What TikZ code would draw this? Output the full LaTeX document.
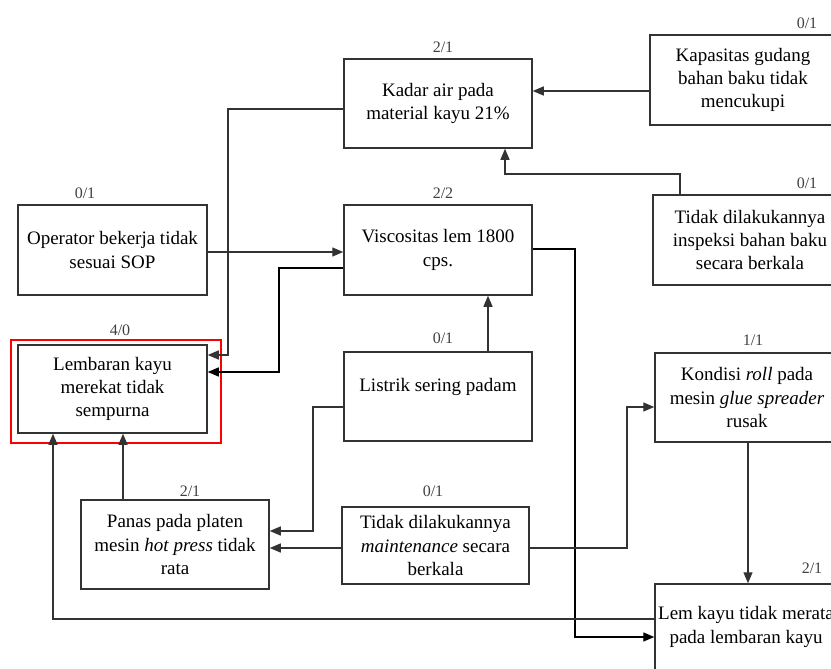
\documentclass[tikz,border=0pt]{standalone}
\usepackage{fontspec}
\setmainfont{Liberation Serif}
\usetikzlibrary{arrows.meta}
\tikzset{
  box/.style={draw=black!80, line width=1.5pt, rectangle, inner sep=0pt, align=center,
    font=\fontsize{19}{23.3}\selectfont},
  lab/.style={font=\fontsize{16}{18}\selectfont, text=black!75, inner sep=0pt},
  arr/.style={draw=black!80, line width=1.3pt, -{Triangle[length=11pt,width=9pt]}},
}
\begin{document}
\begin{tikzpicture}[x=1pt,y=-1pt]
\useasboundingbox (0,0) rectangle (831,669);
\clip (0,0) rectangle (831,669);
% boxes
\node[box, minimum width=188pt, minimum height=89pt] (kadar) at (438,103.5) {Kadar air pada\\material kayu 21\%};
\node[box, minimum width=186pt, minimum height=90pt] (kap) at (743,80) {Kapasitas gudang\\bahan baku tidak\\mencukupi};
\node[box, minimum width=194pt, minimum height=90pt] (insp) at (750,240) {Tidak dilakukannya\\inspeksi bahan baku\\secara berkala};
\node[box, minimum width=189pt, minimum height=90pt] (oper) at (112.5,250) {Operator bekerja tidak\\sesuai SOP};
\node[box, minimum width=188pt, minimum height=90pt] (visc) at (438,250) {Viscositas lem 1800\\cps.};
\node[box, minimum width=189pt, minimum height=88pt] (lemb) at (112.5,389) {Lembaran kayu\\merekat tidak\\sempurna};
\node[box, minimum width=188pt, minimum height=89pt] (list) at (438,396.5) {Listrik sering padam\\~};
\node[box, minimum width=184pt, minimum height=89pt] (kond) at (747,397.5) {Kondisi \textit{roll} pada\\mesin \textit{glue spreader}\\rusak};
\node[box, minimum width=188pt, minimum height=89pt] (panas) at (175,544.5) {Panas pada platen\\mesin \textit{hot press} tidak\\rata};
\node[box, minimum width=187pt, minimum height=77pt] (maint) at (435.5,545.5) {Tidak dilakukannya\\\textit{maintenance} secara\\berkala};
\node[box, minimum width=182pt, minimum height=86pt] (lem) at (746,627) {Lem kayu tidak merata\\pada lembaran kayu};
% highlight
\draw[draw=red, line width=1.4pt] (11,340) rectangle (221,443);
% labels
\node[lab] (lkadar) at (443,47) {2/1};
\node[lab] (lvisc) at (443,193) {2/2};
\node[lab] (lkap) at (807,23) {0/1};
\node[lab] (linsp) at (807,183) {0/1};
\node[lab] (loper) at (85,193) {0/1};
\node[lab] (llemb) at (120,330) {4/0};
\node[lab] (llist) at (443,338) {0/1};
\node[lab] (lkond) at (753,340) {1/1};
\node[lab] (lpanas) at (190,491) {2/1};
\node[lab] (lmaint) at (433,491) {0/1};
\node[lab] (llem) at (812,568) {2/1};
% connectors
\draw[arr] (kap.west |- 0,91) -- (kadar.east |- 0,91);
\draw[arr] (insp.north -| 680,0) |- (505,174) -- (kadar.south -| 505,0);
\draw[arr] (kadar.west |- 0,109) -| (228,355) -- (lemb.east |- 0,355);
\draw[arr] (oper.east |- 0,252) -- (visc.west |- 0,252);
\draw[arr, draw=black] (visc.west |- 0,268) -| (279,372) -- (lemb.east |- 0,372);
\draw[arr] (list.north -| 488,0) -- (visc.south -| 488,0);
\draw[arr, draw=black] (visc.east |- 0,249) -| (575,637) -- (lem.west |- 0,637);
\draw[arr] (list.west |- 0,407) -| (313,531) -- (panas.east |- 0,531);
\draw[arr] (maint.west |- 0,548) -- (panas.east |- 0,548);
\draw[arr] (maint.east |- 0,548) -| (627,407) -- (kond.west |- 0,407);
\draw[arr] (kond.south -| 748,0) -- (lem.north -| 748,0);
\draw[arr] (lem.west |- 0,619) -| (lemb.south -| 53,0);
\draw[arr] (panas.north -| 123,0) -- (lemb.south -| 123,0);
\end{tikzpicture}
\end{document}
